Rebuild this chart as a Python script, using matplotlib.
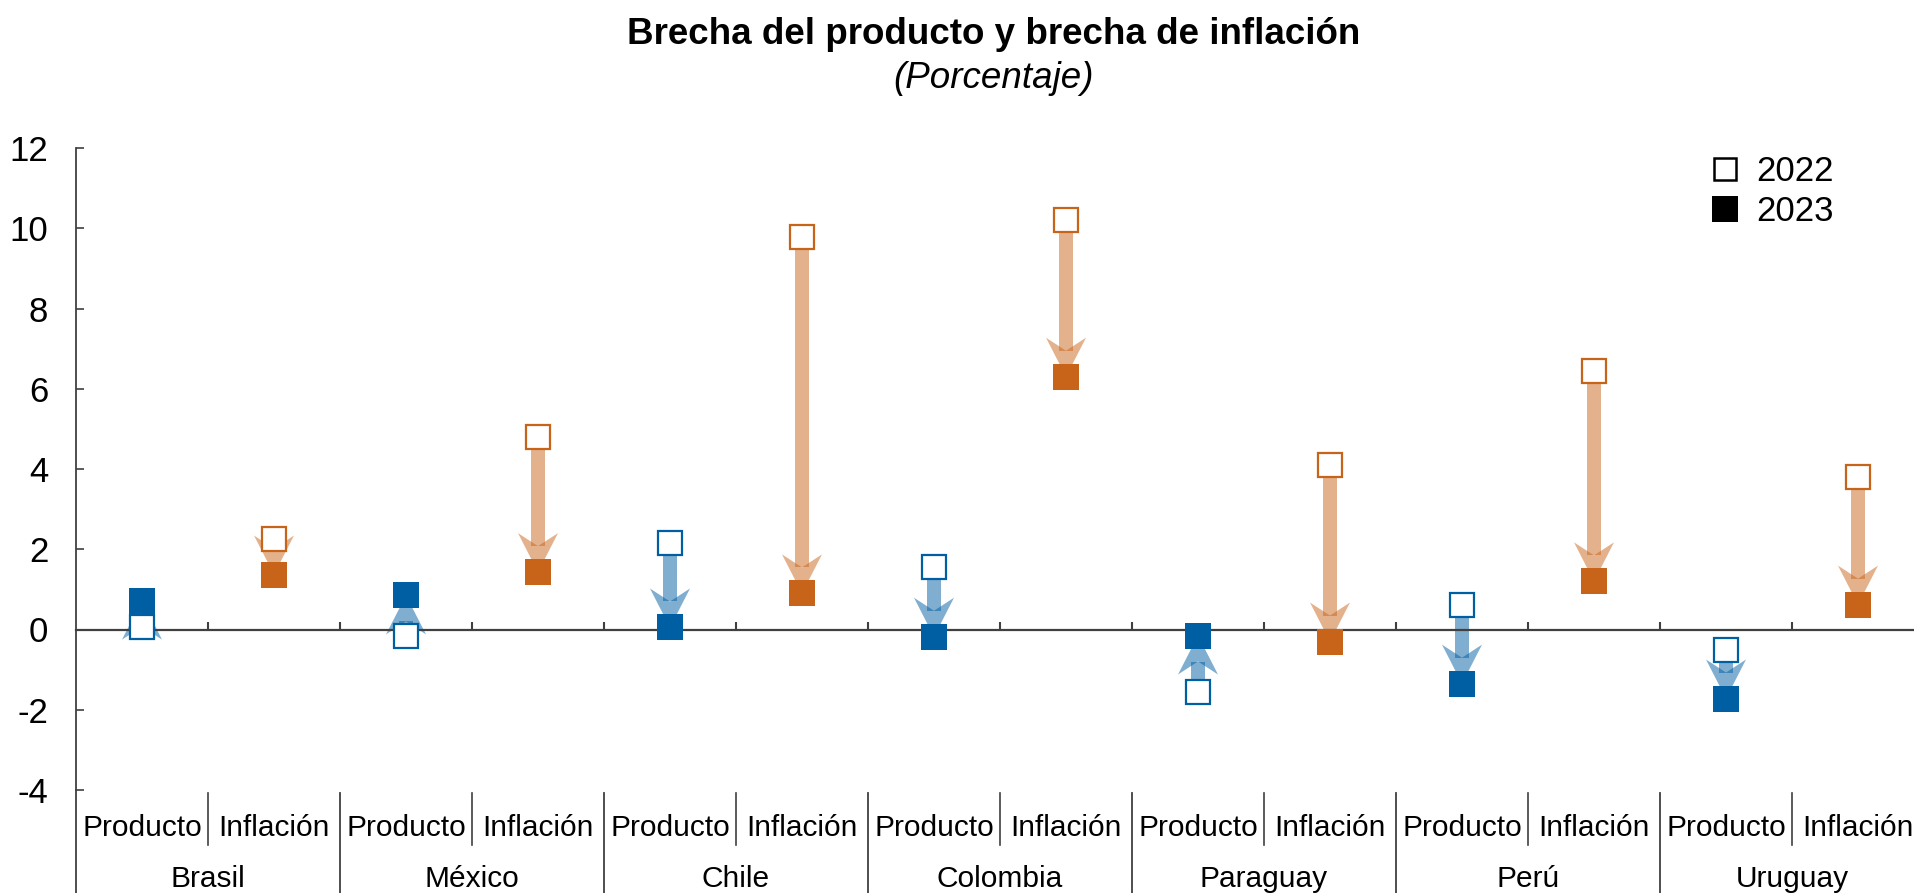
import matplotlib
matplotlib.use('Agg')
import matplotlib.pyplot as plt
import matplotlib.transforms as mtransforms
from matplotlib.patches import Polygon
from matplotlib.lines import Line2D
import numpy as np

plt.rcParams['font.family'] = ['Liberation Sans', 'DejaVu Sans']

countries = ["Brasil", "México", "Chile", "Colombia", "Paraguay", "Perú", "Uruguay"]
subcats = ["Producto", "Inflación"]
prod_2022 = [0.05, -0.15, 2.15, 1.55, -1.55, 0.60, -0.50]
prod_2023 = [0.72, 0.85, 0.05, -0.18, -0.15, -1.35, -1.72]
infl_2022 = [2.25, 4.80, 9.78, 10.20, 4.10, 6.45, 3.80]
infl_2023 = [1.37, 1.43, 0.90, 6.30, -0.30, 1.20, 0.62]
yticks = [-4, -2, 0, 2, 4, 6, 8, 10, 12]
legend_labels = ["2022", "2023"]

BLUE = "#005EA2"
ORANGE = "#C8641A"
AXC = "#404040"

W, H = 1914, 893
fig = plt.figure(figsize=(W / 100, H / 100), dpi=100)
ax = fig.add_axes([76 / W, 103 / H, 1848 / W, 642 / H])
ncat = len(countries) * 2
ax.set_xlim(0, ncat)
ax.set_ylim(min(yticks), max(yticks))

# spines
for s in ["top", "right"]:
    ax.spines[s].set_visible(False)
ax.spines["left"].set_color(AXC)
ax.spines["left"].set_linewidth(1.3)
ax.spines["bottom"].set_position(("data", 0))
ax.spines["bottom"].set_color(AXC)
ax.spines["bottom"].set_linewidth(1.6)

ax.set_yticks(yticks)
ax.set_yticklabels([str(v) for v in yticks])
ax.tick_params(axis="y", direction="in", length=6, width=1.2, color=AXC,
               labelsize=25, pad=20)
ax.set_xticks(np.arange(1, ncat))
ax.tick_params(axis="x", direction="in", length=6, width=1.5, color=AXC,
               labelbottom=False)

# category labels & separators
trans = mtransforms.blended_transform_factory(ax.transData, ax.transAxes)
bottom_ax = -103 / 642
for i, c in enumerate(countries):
    for j, s in enumerate(subcats):
        ax.text(2 * i + j + 0.5, -38 / 642, s, transform=trans, ha="center",
                va="center", fontsize=21.5)
    ax.text(2 * i + 1, -89 / 642, c, transform=trans, ha="center",
            va="center", fontsize=21.5)
    # short separator between subcategories
    ax.plot([2 * i + 1, 2 * i + 1], [-3 / 642, -55 / 642], transform=trans,
            color=AXC, lw=1.2, clip_on=False)
for k in range(0, ncat + 1, 2):
    ax.plot([k, k], [0 if k == 0 else -3 / 642, bottom_ax], transform=trans,
            color=AXC, lw=1.3, clip_on=False)


def arrow(x, y0, y1, color):
    p0 = np.array(ax.transData.transform((x, y0)))
    p1 = np.array(ax.transData.transform((x, y1)))
    d = p1 - p0
    L = np.hypot(*d)
    if L == 0:
        return
    u = d / L
    n = np.array([-u[1], u[0]])
    head_len, half_w, notch, sh = 39.0, 20.0, 13.0, 6.8
    T = p1
    B = T - u * head_len
    N = B + u * notch
    head = np.array([T, B + n * half_w, N, B - n * half_w])
    inv = ax.transData.inverted()
    ax.add_patch(Polygon(inv.transform(head), closed=True, facecolor=color,
                         alpha=0.5, edgecolor="none", zorder=2))
    if np.dot(N - p0, u) > 0:
        shaft = np.array([p0 + n * sh, N + n * sh, N - n * sh, p0 - n * sh])
        ax.add_patch(Polygon(inv.transform(shaft), closed=True, facecolor=color,
                             alpha=0.5, edgecolor="none", zorder=2))


for i in range(len(countries)):
    xp, xi = 2 * i + 0.5, 2 * i + 1.5
    arrow(xp, prod_2022[i], prod_2023[i], BLUE)
    arrow(xi, infl_2022[i], infl_2023[i], ORANGE)

xs_p = [2 * i + 0.5 for i in range(len(countries))]
xs_i = [2 * i + 1.5 for i in range(len(countries))]
ax.plot(xs_p, prod_2022, "s", ls="none", ms=17, mfc="white", mec=BLUE, mew=1.6, zorder=4, clip_on=False)
ax.plot(xs_p, prod_2023, "s", ls="none", ms=18.5, mfc=BLUE, mec=BLUE, mew=0, zorder=4, clip_on=False)
ax.plot(xs_i, infl_2022, "s", ls="none", ms=17, mfc="white", mec=ORANGE, mew=1.6, zorder=4, clip_on=False)
ax.plot(xs_i, infl_2023, "s", ls="none", ms=18.5, mfc=ORANGE, mec=ORANGE, mew=0, zorder=4, clip_on=False)

handles = [
    Line2D([], [], marker="s", ls="none", ms=16.5, mfc="white", mec="black", mew=1.8),
    Line2D([], [], marker="s", ls="none", ms=18.5, mfc="black", mec="black", mew=0),
]
fig.legend(handles, legend_labels, loc="upper right",
           bbox_to_anchor=(1851 / W, 1 - 138 / H), frameon=False, fontsize=25,
           handletextpad=0.4, labelspacing=0.2, borderpad=0, handlelength=1.0)

fig.text(994 / W, 1 - 34 / H, "Brecha del producto y brecha de inflación",
         ha="center", va="center", fontsize=26.5, fontweight="bold")
fig.text(994 / W, 1 - 78 / H, "(Porcentaje)", ha="center", va="center",
         fontsize=26.5, fontstyle="italic")

fig.savefig("out.png", dpi=100)
